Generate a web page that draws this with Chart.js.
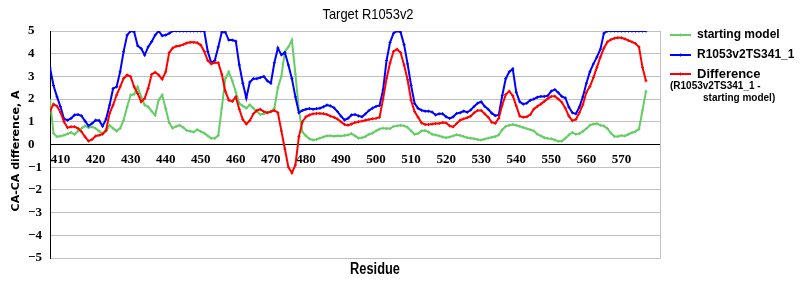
<!DOCTYPE html>
<html>
<head>
<meta charset="utf-8">
<script src="https://cdn.jsdelivr.net/npm/chart.js@4/dist/chart.umd.min.js"></script>
<style>
  html, body { margin: 0; padding: 0; background: #fff; }
</style>
</head>
<body>
<canvas id="caChart" width="800" height="300"></canvas>
<script>
// residues 407..577, one value per residue
var firstResidue = 407;
var lastResidue = 577;
var residues = [];
for (var r = firstResidue; r <= lastResidue; r++) residues.push(r);

var xTicks = [410, 420, 430, 440, 450, 460, 470, 480, 490, 500, 510, 520, 530, 540, 550, 560, 570];

var startingModel = [
  1.96, 0.49, 0.34, 0.37, 0.41, 0.47, 0.53, 0.44, 0.59, 0.71,
  0.82, 0.74, 0.78, 0.71, 0.59, 0.49, 0.59, 0.85, 0.71, 0.59,
  0.71, 1.07, 1.66, 2.18, 2.21, 2.54, 2.10, 1.74, 1.66, 1.47,
  1.29, 1.96, 2.18, 1.59, 0.95, 0.72, 0.80, 0.85, 0.75, 0.62,
  0.58, 0.55, 0.65, 0.58, 0.50, 0.38, 0.27, 0.27, 0.40, 1.60,
  2.90, 3.20, 2.80, 2.30, 1.80, 1.70, 1.60, 1.75, 1.60, 1.45,
  1.32, 1.35, 1.40, 1.45, 1.60, 2.50, 3.00, 4.10, 4.30, 4.60,
  3.10, 1.50, 0.55, 0.38, 0.25, 0.20, 0.22, 0.28, 0.33, 0.38,
  0.38, 0.36, 0.38, 0.37, 0.40, 0.42, 0.48, 0.38, 0.28, 0.30,
  0.35, 0.45, 0.50, 0.60, 0.68, 0.72, 0.70, 0.70, 0.80, 0.82,
  0.85, 0.82, 0.75, 0.60, 0.45, 0.48, 0.60, 0.62, 0.55, 0.45,
  0.42, 0.38, 0.33, 0.30, 0.33, 0.38, 0.43, 0.40, 0.35, 0.30,
  0.28, 0.25, 0.22, 0.20, 0.24, 0.28, 0.32, 0.35, 0.42, 0.65,
  0.80, 0.85, 0.88, 0.85, 0.80, 0.75, 0.70, 0.65, 0.60, 0.45,
  0.38, 0.30, 0.27, 0.25, 0.20, 0.14, 0.15, 0.28, 0.42, 0.53,
  0.45, 0.48, 0.58, 0.70, 0.85, 0.90, 0.92, 0.85, 0.82, 0.70,
  0.50, 0.35, 0.35, 0.40, 0.38, 0.45, 0.52, 0.58, 0.68, 1.50,
  2.35
];

var ts341 = [
  3.38, 2.60, 2.10, 1.66, 1.12, 1.07, 1.15, 1.30, 1.32, 1.26,
  1.03, 0.82, 0.93, 1.07, 1.06, 0.81, 1.12, 1.74, 2.47, 2.54,
  3.20, 4.09, 4.82, 5.00, 4.97, 4.35, 4.23, 3.94, 4.30, 4.53,
  4.82, 5.00, 4.79, 4.82, 4.90, 5.00, 5.00, 5.00, 5.00, 5.00,
  5.00, 5.00, 5.00, 5.00, 5.00, 4.10, 3.60, 3.70, 4.30, 4.95,
  4.95, 4.60, 4.60, 4.55, 3.50, 2.70, 2.05, 2.75, 2.90, 2.90,
  2.95, 3.00, 2.80, 2.70, 3.60, 4.25, 3.95, 4.05, 3.50, 2.90,
  2.10, 1.40, 1.50, 1.55, 1.58, 1.55, 1.58, 1.60, 1.66, 1.74,
  1.70, 1.62, 1.45, 1.25, 1.08, 1.15, 1.30, 1.32, 1.26, 1.22,
  1.35, 1.50, 1.60, 1.68, 1.72, 2.40, 3.70, 4.50, 4.90, 5.00,
  4.95, 4.40, 3.55, 2.60, 1.81, 1.59, 1.51, 1.47, 1.47, 1.43,
  1.30, 1.35, 1.35, 1.22, 1.15, 1.22, 1.37, 1.40, 1.47, 1.42,
  1.52, 1.68, 1.82, 1.88, 1.68, 1.55, 1.38, 1.27, 1.30, 2.15,
  2.90, 3.20, 3.33, 2.30, 1.88, 1.78, 1.82, 1.95, 2.00, 2.08,
  2.12, 2.12, 2.15, 2.35, 2.42, 2.28, 2.12, 2.05, 1.65, 1.40,
  1.35, 1.65, 2.10, 2.70, 3.20, 3.55, 3.85, 4.20, 4.90, 5.00,
  5.00, 5.00, 5.00, 5.00, 5.00, 5.00, 5.00, 5.00, 5.00, 5.00,
  5.00
];

var difference = [
  1.47, 1.78, 1.69, 1.41, 1.00, 0.74, 0.78, 0.78, 0.71, 0.56,
  0.34, 0.15, 0.22, 0.37, 0.41, 0.46, 0.63, 1.37, 1.74, 2.18,
  2.54, 2.91, 3.06, 2.99, 2.54, 2.25, 1.88, 2.03, 2.47, 3.09,
  3.18, 3.06, 2.88, 3.20, 4.05, 4.25, 4.33, 4.35, 4.40, 4.47,
  4.50, 4.50, 4.48, 4.38, 4.10, 3.70, 3.55, 3.60, 3.60, 3.10,
  2.35, 1.95, 1.90, 2.10, 1.55, 1.10, 0.90, 1.05, 1.35, 1.50,
  1.55, 1.45, 1.40, 1.45, 1.50, 1.40, 0.60, -0.20, -1.00, -1.25,
  -0.90, 0.35, 1.00, 1.22, 1.30, 1.35, 1.37, 1.37, 1.36, 1.32,
  1.25, 1.20, 1.12, 1.00, 0.88, 0.85, 0.90, 0.97, 1.00, 1.03,
  1.07, 1.10, 1.13, 1.15, 1.20, 2.00, 2.90, 3.60, 4.10, 4.20,
  4.05, 3.50, 2.85, 1.95, 1.45, 1.20, 0.95, 0.88, 0.88, 0.90,
  0.92, 0.93, 0.97, 0.95, 0.82, 0.78, 0.92, 1.07, 1.13, 1.18,
  1.25, 1.40, 1.50, 1.50, 1.35, 1.20, 0.98, 0.93, 1.15, 1.74,
  2.20, 2.35, 2.15, 1.70, 1.25, 1.20, 1.22, 1.32, 1.56, 1.68,
  1.78, 1.90, 2.02, 2.12, 2.13, 2.00, 1.86, 1.60, 1.25, 1.05,
  1.10, 1.40, 1.75, 2.30, 2.55, 2.95, 3.40, 3.85, 4.25, 4.52,
  4.62, 4.68, 4.70, 4.70, 4.65, 4.58, 4.52, 4.45, 4.30, 3.40,
  2.80
];

var GREEN = "#66cc66";
var BLUE = "#0000ff";
var RED = "#ff0000";

function points(values) {
  return residues.map(function (res, i) { return { x: res, y: values[i] }; });
}

function series(label, values, color, order) {
  return {
    label: label,
    data: points(values),
    borderColor: color,
    backgroundColor: color,
    borderWidth: 2,
    pointStyle: "cross",
    pointRadius: 1.5,
    pointBorderWidth: 1,
    pointHoverRadius: 1.5,
    tension: 0,
    order: order,
  };
}

var tickFont = { family: "'Liberation Serif', serif", size: 13, weight: "bold" };

// narrow text: squeeze a normal face horizontally
function narrowText(ctx, text, x, y, font, squeeze) {
  ctx.save();
  ctx.font = font;
  ctx.translate(x, y);
  ctx.scale(squeeze, 1);
  ctx.fillText(text, 0, 0);
  ctx.restore();
}

// title, axis titles, legend and right frame line
var decor = {
  id: "decor",
  afterDraw: function (chart) {
    var ctx = chart.ctx;
    var a = chart.chartArea;
    ctx.save();
    ctx.strokeStyle = "#c0c0c0";
    ctx.lineWidth = 1;
    ctx.beginPath();
    ctx.moveTo(Math.round(a.right) + 0.5, a.top);
    ctx.lineTo(Math.round(a.right) + 0.5, a.bottom + 0.5);
    ctx.stroke();

    ctx.fillStyle = "#000";
    ctx.textAlign = "center";
    ctx.textBaseline = "middle";
    narrowText(ctx, "Target R1053v2", 368, 15, "15px 'Liberation Sans', Arial, sans-serif", 0.86);
    narrowText(ctx, "Residue", 375, 270, "bold 16px 'Liberation Sans', Arial, sans-serif", 0.8);

    ctx.save();
    ctx.translate(16, 151);
    ctx.rotate(-Math.PI / 2);
    ctx.font = "bold 11px 'DejaVu Sans', sans-serif";
    ctx.fillText("CA-CA difference, A", 0, 0);
    ctx.restore();

    var items = [
      { text: "starting model", color: GREEN, y: 35, size: 12 },
      { text: "R1053v2TS341_1", color: BLUE, y: 55, size: 12 },
      { text: "Difference", color: RED, y: 74, size: 13 },
    ];
    ctx.textAlign = "left";
    items.forEach(function (it) {
      ctx.strokeStyle = it.color;
      ctx.lineWidth = 2;
      ctx.beginPath();
      ctx.moveTo(670, it.y);
      ctx.lineTo(691, it.y);
      ctx.stroke();
      ctx.lineWidth = 1;
      ctx.beginPath();
      ctx.moveTo(680.5, it.y - 1.5);
      ctx.lineTo(680.5, it.y + 1.5);
      ctx.stroke();
      ctx.font = "bold " + it.size + "px 'Liberation Sans', Arial, sans-serif";
      ctx.fillText(it.text, 697, it.y);
    });
    ctx.font = "bold 10px 'Liberation Sans', Arial, sans-serif";
    ctx.fillText("(R1053v2TS341_1 -", 670, 86);
    ctx.fillText("starting model)", 703, 98);
    ctx.restore();
  },
};

new Chart(document.getElementById("caChart").getContext("2d"), {
  type: "line",
  data: {
    datasets: [
      series("starting model", startingModel, GREEN, 2),
      series("R1053v2TS341_1", ts341, BLUE, 1),
      series("Difference (R1053v2TS341_1 - starting model)", difference, RED, 0),
    ],
  },
  options: {
    responsive: false,
    animation: false,
    layout: { padding: { left: 28, right: 140, top: 31, bottom: 42 } },
    plugins: {
      legend: { display: false },
      title: { display: false },
      tooltip: { enabled: false },
    },
    scales: {
      x: {
        type: "linear",
        position: { y: 0 },
        min: firstResidue,
        max: 581,
        grid: { display: false, drawTicks: false },
        border: { display: true, color: "#000", width: 1 },
        afterBuildTicks: function (scale) {
          scale.ticks = xTicks.map(function (v) { return { value: v }; });
        },
        ticks: {
          autoSkip: false,
          maxRotation: 0,
          padding: 7,
          color: "#000",
          font: tickFont,
          callback: function (v) { return String(v); },
        },
      },
      y: {
        min: -5,
        max: 5,
        grid: { color: "#c0c0c0", lineWidth: 1, drawTicks: false },
        border: { display: true, color: "#000", width: 1 },
        afterFit: function (scale) { scale.width = 22; },
        ticks: {
          stepSize: 1,
          crossAlign: "far",
          color: "#000",
          font: tickFont,
          callback: function (v) { return v < 0 ? "\u2212" + Math.abs(v) : String(v); },
        },
      },
    },
  },
  plugins: [decor],
});
</script>
</body>
</html>
